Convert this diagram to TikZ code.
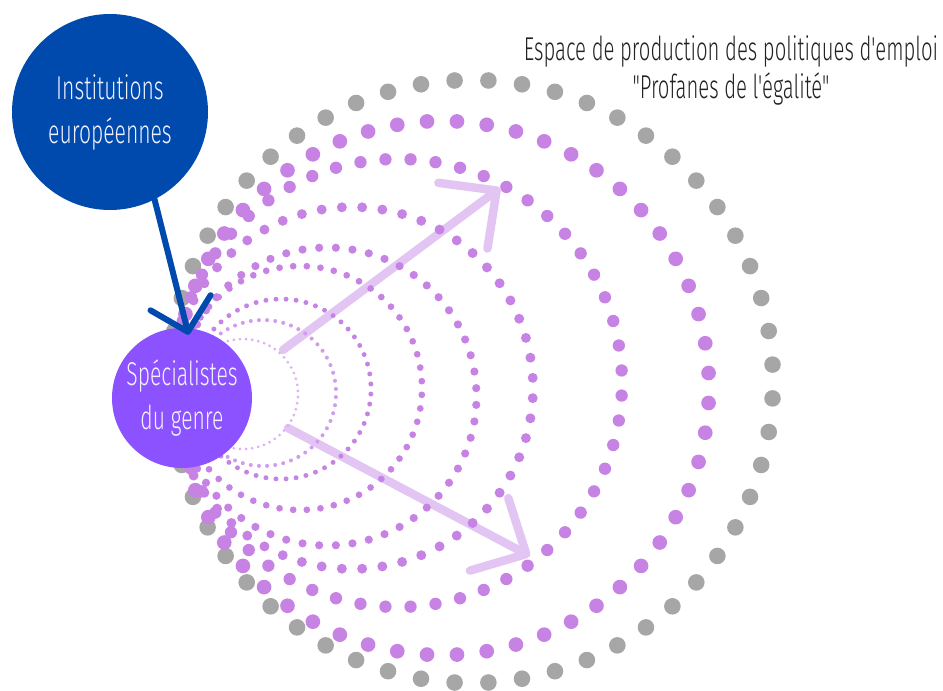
\documentclass[tikz,border=0pt]{standalone}
\usepackage{fontspec}
\newfontfamily\hand{Fira Sans Light}[FakeStretch=0.64,Ligatures=TeXOff]
\newfontfamily\handt{Fira Sans Light}[FakeStretch=0.615,Ligatures=TeXOff]
\usetikzlibrary{arrows.meta}
\definecolor{instblue}{HTML}{004AAD}
\definecolor{specpurple}{HTML}{8C52FF}
\definecolor{dotpurple}{HTML}{C783E4}
\definecolor{dotpurpleb}{HTML}{D29BEC}
\definecolor{dotpurplea}{HTML}{DCB0F1}
\definecolor{dotgray}{HTML}{A6A6A6}
\definecolor{lav}{HTML}{E2C5F3}
\definecolor{bubbletext}{HTML}{F2F2FF}
\definecolor{titletext}{HTML}{222222}
\begin{document}
\begin{tikzpicture}[x=1pt,y=-1pt,
  bubble/.style={circle, inner sep=0pt, align=center, text=bubbletext,
    font=\hand\fontsize{33}{44}\selectfont},
  lavarrow/.style={draw=lav, line width=8.5pt, line cap=round, line join=round,
    -{Straight Barb[length=42pt,width=82pt,round]}},
  linkarrow/.style={draw=instblue, line width=6pt, line cap=round, line join=round,
    -{Straight Barb[length=30pt,width=62pt,round]}},
  titlestyle/.style={align=center, text=titletext, font=\handt\fontsize{33}{38}\selectfont},
]
\useasboundingbox (0,0) rectangle (943,691);

% light arrows (under the dots)
\coordinate (a1s) at (283,350);
\coordinate (a1e) at (500,188);
\coordinate (a2s) at (288,428);
\coordinate (a2e) at (530,556);
\draw[lavarrow] (a1s) -- (a1e);
\draw[lavarrow] (a2s) -- (a2e);

% rings of dots
\foreach \ringx/\ringy/\ringr/\ringcol in {471.5/381.5/301.5/dotgray,442/388/267/dotpurple,398/383/224/dotpurple,352/388/181/dotpurple,327.5/396.5/149/dotpurple,300/388/122/dotpurple,281/389/90/dotpurple,263/393/73/dotpurpleb,243/394/55/dotpurplea}{
  \foreach \k in {0,...,55}{
    \pgfmathsetmacro\dota{(\k+0.5)*6.428571}
    \pgfmathsetmacro\dotx{\ringx+\ringr*cos(\dota)}
    \pgfmathsetmacro\doty{\ringy+\ringr*sin(\dota)}
    \pgfmathsetmacro\dotr{0.0275*\ringr}
    \fill[\ringcol] (\dotx,\doty) circle[radius=\dotr pt];
  }
}

% main nodes
\node[bubble, fill=instblue, minimum size=196pt] (inst) at (110,112)
  {Institutions\\europ\'eennes};
\node[bubble, fill=specpurple, minimum size=140pt] (spec) at (182,398)
  {Sp\'ecialistes\\du genre};

\draw[linkarrow, shorten >=-7pt] (inst.-63) -- (spec.86);

\node[titlestyle] (title) at (731,70)
  {Espace de production des politiques d'emploi\\"Profanes de l'\'egalit\'e"};
\end{tikzpicture}
\end{document}
